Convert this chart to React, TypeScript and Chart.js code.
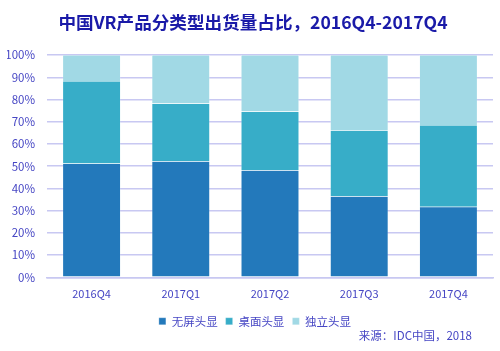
import React, { useEffect, useRef } from "react";
import { Chart, registerables } from "chart.js";

Chart.register(...registerables);

const categories = ["2016Q4", "2017Q1", "2017Q2", "2017Q3", "2017Q4"];
const noScreen = [51.2, 52.2, 48.2, 36.5, 31.7];
const desktop = [37.1, 26.0, 26.4, 29.7, 36.9];
const standalone = [11.7, 21.8, 25.4, 33.8, 31.4];
const seriesNames = ["无屏头显", "桌面头显", "独立头显"];
const yTicks = [0, 10, 20, 30, 40, 50, 60, 70, 80, 90, 100];
const sourceText = "来源：IDC中国，2018";

const FONT = "'Noto Sans CJK SC', 'Microsoft YaHei', sans-serif";
const TEXT = "#4646C4";

const sourcePlugin = {
  id: "sourceNote",
  afterLayout(chart: any) {
    if (chart.legend) {
      chart.legend.left += 5;
      chart.legend.right += 5;
    }
    if (chart.titleBlock) {
      chart.titleBlock.left += 3;
      chart.titleBlock.right += 3;
    }
  },
  afterDraw(chart: any) {
    const ctx = chart.ctx;
    ctx.save();
    ctx.font = `11.5px ${FONT}`;
    ctx.fillStyle = TEXT;
    ctx.textAlign = "right";
    ctx.textBaseline = "middle";
    ctx.fillText(sourceText, chart.width - 28, chart.height - 15);
    ctx.restore();
  },
};

export default function App() {
  const ref = useRef<HTMLCanvasElement>(null);
  useEffect(() => {
    document.body.style.margin = "0";
    const chart = new Chart(ref.current!, {
      type: "bar",
      data: {
        labels: categories,
        datasets: [
          { label: seriesNames[0], data: noScreen, backgroundColor: "#2379BB", borderColor: "rgba(255,255,255,0.5)", borderWidth: 0.5 },
          { label: seriesNames[1], data: desktop, backgroundColor: "#37ADC8", borderColor: "rgba(255,255,255,0.5)", borderWidth: 0.5 },
          { label: seriesNames[2], data: standalone, backgroundColor: "#A1D9E5", borderColor: "rgba(255,255,255,0.5)", borderWidth: 0.5 },
        ],
      },
      options: {
        responsive: false,
        animation: false,
        devicePixelRatio: 1,
        layout: { padding: { left: 7, right: 7, top: 8, bottom: 14 } },
        datasets: { bar: { categoryPercentage: 1, barPercentage: 0.65 } },
        scales: {
          x: {
            stacked: true,
            grid: { display: false, drawTicks: false },
            border: { color: "#C8C8F2", width: 1.5 },
            ticks: { color: TEXT, font: { family: FONT, size: 11 }, padding: 10 },
            afterFit: (axis: any) => {
              axis.height -= 3;
            },
          },
          y: {
            stacked: true,
            min: 0,
            max: 100,
            afterBuildTicks: (axis: any) => {
              axis.ticks = yTicks.map((v) => ({ value: v }));
            },
            afterFit: (axis: any) => {
              axis.width = 40;
            },
            grid: { color: "#C8C8F2", lineWidth: 1.5, drawTicks: false },
            border: { display: false },
            ticks: {
              color: TEXT,
              font: { family: FONT, size: 11.5 },
              padding: 12,
              callback: (v: any) => v + "%",
            },
          },
        },
        plugins: {
          title: {
            display: true,
            text: "中国VR产品分类型出货量占比，2016Q4-2017Q4",
            color: "#1A1AA8",
            font: { family: FONT, size: 17.6, weight: "bold" },
            padding: { top: 4, bottom: 22 },
          },
          legend: {
            position: "bottom",
            labels: {
              color: TEXT,
              font: { family: FONT, size: 11.5 },
              boxWidth: 7,
              boxHeight: 7,
              padding: 8,
            },
          },
          tooltip: { enabled: false },
        },
      },
      plugins: [sourcePlugin],
    });
    return () => chart.destroy();
  }, []);
  return (
    <div style={{ width: 500, height: 351 }}>
      <canvas ref={ref} width={500} height={351} />
    </div>
  );
}
